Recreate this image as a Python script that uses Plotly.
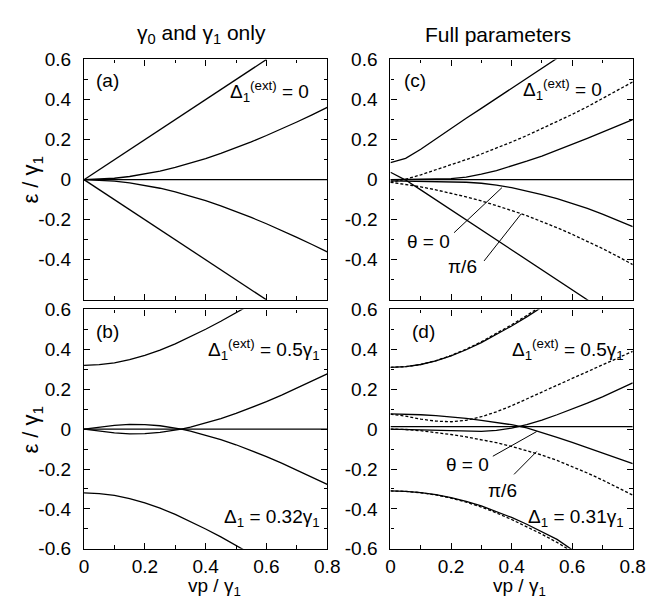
import plotly.graph_objects as go

# ---------------- data ----------------
X = [0, 0.05, 0.1, 0.15, 0.2, 0.25, 0.3, 0.35, 0.4, 0.45, 0.5, 0.55, 0.6, 0.65, 0.7, 0.75, 0.8]

# panel (a): gamma0 and gamma1 only, Delta1(ext) = 0
a_lin_x = [0, 0.2, 0.4, 0.6]
a_lin_up = [0, 0.2, 0.4, 0.6]
a_lin_dn = [0, -0.2, -0.4, -0.6]
a_bil_up = [0, 0.0018, 0.0070, 0.0157, 0.0277, 0.0429, 0.0610, 0.0819, 0.1053, 0.1310,
            0.1589, 0.1887, 0.2203, 0.2534, 0.2879, 0.3237, 0.3606]
a_bil_dn = [-v for v in a_bil_up]

# panel (b): Delta1(ext) = 0.5 gamma1, Delta1 = 0.32 gamma1
b_top_x = [0, 0.05, 0.1, 0.15, 0.2, 0.25, 0.3, 0.35, 0.4, 0.45, 0.5, 0.55, 0.6]
b_top = [0.320, 0.3233, 0.3325, 0.3481, 0.3696, 0.3965, 0.4278, 0.4628, 0.5006, 0.5406, 0.5822, 0.6252, 0.6693]
b_bot = [-0.320, -0.3233, -0.3325, -0.3481, -0.3696, -0.3965, -0.4278, -0.4628, -0.5006, -0.5406, -0.5822, -0.6252, -0.6693]
b_lens_x = [0, 0.05, 0.1, 0.15, 0.2, 0.25, 0.3, 0.32, 0.35, 0.4, 0.45, 0.5, 0.55, 0.6, 0.65, 0.7, 0.75, 0.8]
b_lens_1 = [0, 0.0106, 0.0191, 0.0235, 0.0228, 0.0168, 0.0057, 0, -0.0099, -0.0295, -0.0525,
            -0.0785, -0.1069, -0.1376, -0.1701, -0.2043, -0.2399, -0.2768]
b_lens_2 = [0, -0.0106, -0.0191, -0.0235, -0.0228, -0.0168, -0.0057, 0, 0.0099, 0.0295, 0.0525,
            0.0785, 0.1069, 0.1376, 0.1701, 0.2043, 0.2399, 0.2768]

# panel (c): full parameters, Delta1(ext) = 0 ; solid theta = 0, dotted theta = pi/6
c_mono_up_x = [0, 0.05, 0.1, 0.15, 0.2, 0.25, 0.3, 0.35, 0.4, 0.45, 0.5, 0.55, 0.6]
c_mono_up = [0.085, 0.106, 0.152, 0.205, 0.257, 0.307, 0.356, 0.406, 0.456, 0.506, 0.556, 0.606, 0.656]
c_mono_dn_x = [0, 0.05, 0.1, 0.15, 0.2, 0.25, 0.3, 0.35, 0.4, 0.45, 0.5, 0.55, 0.6, 0.65, 0.7]
c_mono_dn = [0.037, -0.002, -0.051, -0.101, -0.150, -0.200, -0.250, -0.300, -0.350, -0.400,
             -0.450, -0.500, -0.550, -0.600, -0.650]
c_bil_up_t0 = [0.0, 0.002, 0.003, 0.003, 0.005, 0.013, 0.027, 0.045, 0.068, 0.092, 0.118,
               0.146, 0.176, 0.206, 0.237, 0.268, 0.300]
c_bil_dn_t0 = [-0.006, -0.007, -0.008, -0.009, -0.010, -0.013, -0.018, -0.027, -0.040, -0.056,
               -0.075, -0.095, -0.118, -0.143, -0.172, -0.203, -0.235]
c_bil_up_t6 = [-0.013, 0.002, 0.024, 0.049, 0.074, 0.100, 0.128, 0.157, 0.188, 0.220, 0.254,
               0.289, 0.326, 0.364, 0.404, 0.445, 0.488]
c_bil_dn_t6 = [-0.013, -0.024, -0.036, -0.051, -0.067, -0.086, -0.106, -0.129, -0.154, -0.180,
               -0.209, -0.240, -0.273, -0.307, -0.344, -0.383, -0.424]

# panel (d): full parameters, Delta1(ext) = 0.5 gamma1, Delta1 = 0.31 gamma1
d_top_x = [0, 0.05, 0.1, 0.15, 0.2, 0.25, 0.3, 0.35, 0.4, 0.45, 0.5, 0.55]
d_top_t0 = [0.310, 0.313, 0.324, 0.342, 0.367, 0.398, 0.434, 0.474, 0.517, 0.563, 0.610, 0.660]
d_top_t6 = [0.310, 0.313, 0.324, 0.343, 0.369, 0.401, 0.438, 0.479, 0.523, 0.570, 0.618, 0.668]
d_bot_x = [0, 0.05, 0.1, 0.15, 0.2, 0.25, 0.3, 0.35, 0.4, 0.45, 0.5, 0.55, 0.6, 0.65]
d_bot_t0 = [-0.310, -0.312, -0.318, -0.328, -0.343, -0.362, -0.385, -0.412, -0.443, -0.477,
            -0.514, -0.553, -0.605, -0.655]
d_bot_t6 = [-0.310, -0.312, -0.319, -0.330, -0.346, -0.366, -0.391, -0.420, -0.453, -0.489,
            -0.527, -0.568, -0.612, -0.660]
d_mid1_t0 = [0.076, 0.075, 0.072, 0.068, 0.062, 0.054, 0.044, 0.033, 0.022, 0.006, -0.016,
             -0.041, -0.067, -0.093, -0.120, -0.147, -0.173]
d_mid2_t0 = [0.0, -0.002, -0.004, -0.007, -0.009, -0.011, -0.011, -0.006, 0.005, 0.022, 0.045,
             0.072, 0.100, 0.130, 0.162, 0.196, 0.232]
d_mid1_t6 = [0.075, 0.065, 0.050, 0.040, 0.037, 0.044, 0.062, 0.087, 0.117, 0.150, 0.185,
             0.220, 0.254, 0.288, 0.322, 0.356, 0.390]
d_mid2_t6 = [0.0, -0.002, -0.008, -0.017, -0.027, -0.039, -0.052, -0.068, -0.087, -0.107, -0.130,
             -0.157, -0.187, -0.220, -0.255, -0.292, -0.331]

ref_x = [0, 0.8]
ref_abc = [0, 0]
ref_d = [0.012, 0.012]

x_ticks = [0, 0.2, 0.4, 0.6, 0.8]
x_ticktext = ["0", "0.2", "0.4", "0.6", "0.8"]
y_ticks = [-0.6, -0.4, -0.2, 0, 0.2, 0.4, 0.6]
y_text_top = ["", "-0.4", "-0.2", "0", "0.2", "0.4", "0.6"]
y_text_bot = ["-0.6", "-0.4", "-0.2", "0", "0.2", "0.4", "0.6"]

# leader lines (data coordinates of each panel)
c_lead_t0 = [(0.21, -0.265), (0.368, -0.04)]
c_lead_t6 = [(0.309, -0.406), (0.431, -0.172)]
d_lead_t0 = [(0.338, -0.136), (0.483, -0.012)]
d_lead_t6 = [(0.408, -0.227), (0.483, -0.112)]

# ---------------- figure ----------------
W, H = 664, 601
FONT = "Liberation Sans, Arial, Helvetica, sans-serif"
fig = go.Figure()

def line(xs, ys, ax, dotted=False):
    fig.add_trace(go.Scatter(
        x=xs, y=ys, mode="lines",
        line=dict(color="black", width=1.3, dash="3px,2px" if dotted else "solid"),
        xaxis="x" + ax, yaxis="y" + ax, showlegend=False, hoverinfo="skip"))

# (a) -> axes 1
line(a_lin_x, a_lin_up, "")
line(a_lin_x, a_lin_dn, "")
line(X, a_bil_up, "")
line(X, a_bil_dn, "")
line(ref_x, ref_abc, "")
# (b) -> axes 2
line(b_top_x, b_top, "2")
line(b_top_x, b_bot, "2")
line(b_lens_x, b_lens_1, "2")
line(b_lens_x, b_lens_2, "2")
line(ref_x, ref_abc, "2")
# (c) -> axes 3
line(ref_x, ref_abc, "3")
line(X, c_bil_up_t6, "3", True)
line(X, c_bil_dn_t6, "3", True)
line(c_mono_up_x, c_mono_up, "3")
line(c_mono_dn_x, c_mono_dn, "3")
line(X, c_bil_up_t0, "3")
line(X, c_bil_dn_t0, "3")
# (d) -> axes 4
line(ref_x, ref_d, "4")
line(d_top_x, d_top_t6, "4", True)
line(d_bot_x, d_bot_t6, "4", True)
line(X, d_mid1_t6, "4", True)
line(X, d_mid2_t6, "4", True)
line(d_top_x, d_top_t0, "4")
line(d_bot_x, d_bot_t0, "4")
line(X, d_mid1_t0, "4")
line(X, d_mid2_t0, "4")

L = [73 / W, 323 / W]
R = [388 / W, 637 / W]
T = [1 - 292 / H, 1 - 43 / H]
B = [1 - 550 / H, 1 - 302 / H]

def xax(dom, anchor, labels):
    return dict(domain=dom, anchor=anchor, range=[0, 0.8], showline=True, linecolor="black",
                linewidth=1.3, mirror="ticks", ticks="inside", ticklen=6, tickwidth=1,
                tickcolor="black", tickmode="array", tickvals=x_ticks, ticktext=x_ticktext,
                showticklabels=labels, showgrid=False, zeroline=False,
                tickfont=dict(family=FONT, size=19, color="black"),
                minor=dict(tickmode="linear", tick0=0, dtick=0.1, ticks="inside", ticklen=3.5,
                           tickcolor="black", tickwidth=1, showgrid=False),
                fixedrange=True)

def yax(dom, anchor, texts):
    return dict(domain=dom, anchor=anchor, range=[-0.6, 0.6], showline=True, linecolor="black",
                linewidth=1.3, mirror="ticks", ticks="inside", ticklen=6, tickwidth=1,
                tickcolor="black", tickmode="array", tickvals=y_ticks, ticktext=texts,
                showgrid=False, zeroline=False, ticklabelstandoff=8,
                tickfont=dict(family=FONT, size=19, color="black"),
                minor=dict(tickmode="linear", tick0=0, dtick=0.1, ticks="inside", ticklen=3.5,
                           tickcolor="black", tickwidth=1, showgrid=False),
                fixedrange=True)

fig.update_layout(
    width=W, height=H, margin=dict(l=0, r=0, t=0, b=0),
    paper_bgcolor="white", plot_bgcolor="white",
    font=dict(family=FONT, size=18, color="black"),
    xaxis=xax(L, "y", False), yaxis=yax(T, "x", y_text_top),
    xaxis2=xax(L, "y2", True), yaxis2=yax(B, "x2", y_text_bot),
    xaxis3=xax(R, "y3", False), yaxis3=yax(T, "x3", y_text_top),
    xaxis4=xax(R, "y4", True), yaxis4=yax(B, "x4", y_text_bot),
)

def txt(s, px, py, size=18, xanchor="center", angle=0):
    fig.add_annotation(text=s, x=px / W, y=1 - py / H, xref="paper", yref="paper",
                       xanchor=xanchor, yanchor="middle", showarrow=False, textangle=angle,
                       font=dict(family=FONT, size=size, color="black"))

txt("γ<sub>0</sub> and γ<sub>1</sub> only", 194, 17, 21)
txt("Full parameters", 498, 17, 21)
txt("ε / γ<sub>1</sub>", 20, 167, 22, angle=-90)
txt("ε / γ<sub>1</sub>", 20, 426, 22, angle=-90)
txt("vp / γ<sub>1</sub>", 207, 590, 19)
txt("vp / γ<sub>1</sub>", 521, 590, 19)
txt("(a)", 97, 65, 19)
txt("(b)", 97, 325, 19)
txt("(c)", 413, 65, 19)
txt("(d)", 422, 325, 19)
txt("Δ<sub>1</sub><sup>(ext)</sup> = 0", 306, 76, 19, "right")
txt("Δ<sub>1</sub><sup>(ext)</sup> = 0", 607, 74, 19, "right")
txt("Δ<sub>1</sub><sup>(ext)</sup> = 0.5γ<sub>1</sub>", 318, 343, 19, "right")
txt("Δ<sub>1</sub><sup>(ext)</sup> = 0.5γ<sub>1</sub>", 630, 343, 19, "right")
txt("Δ<sub>1</sub> = 0.32γ<sub>1</sub>", 318, 518, 19, "right")
txt("Δ<sub>1</sub> = 0.31γ<sub>1</sub>", 630, 518, 19, "right")
txt("θ = 0", 427, 232, 19)
txt("π/6", 462, 258, 19)
txt("θ = 0", 467, 463, 19)
txt("π/6", 503, 490, 19)

for ax, seg in [("3", c_lead_t0), ("3", c_lead_t6), ("4", d_lead_t0), ("4", d_lead_t6)]:
    (x0, y0), (x1, y1) = seg
    fig.add_shape(type="line", x0=x0, y0=y0, x1=x1, y1=y1, xref="x" + ax, yref="y" + ax,
                  line=dict(color="black", width=1))

fig.write_html("out.html")
